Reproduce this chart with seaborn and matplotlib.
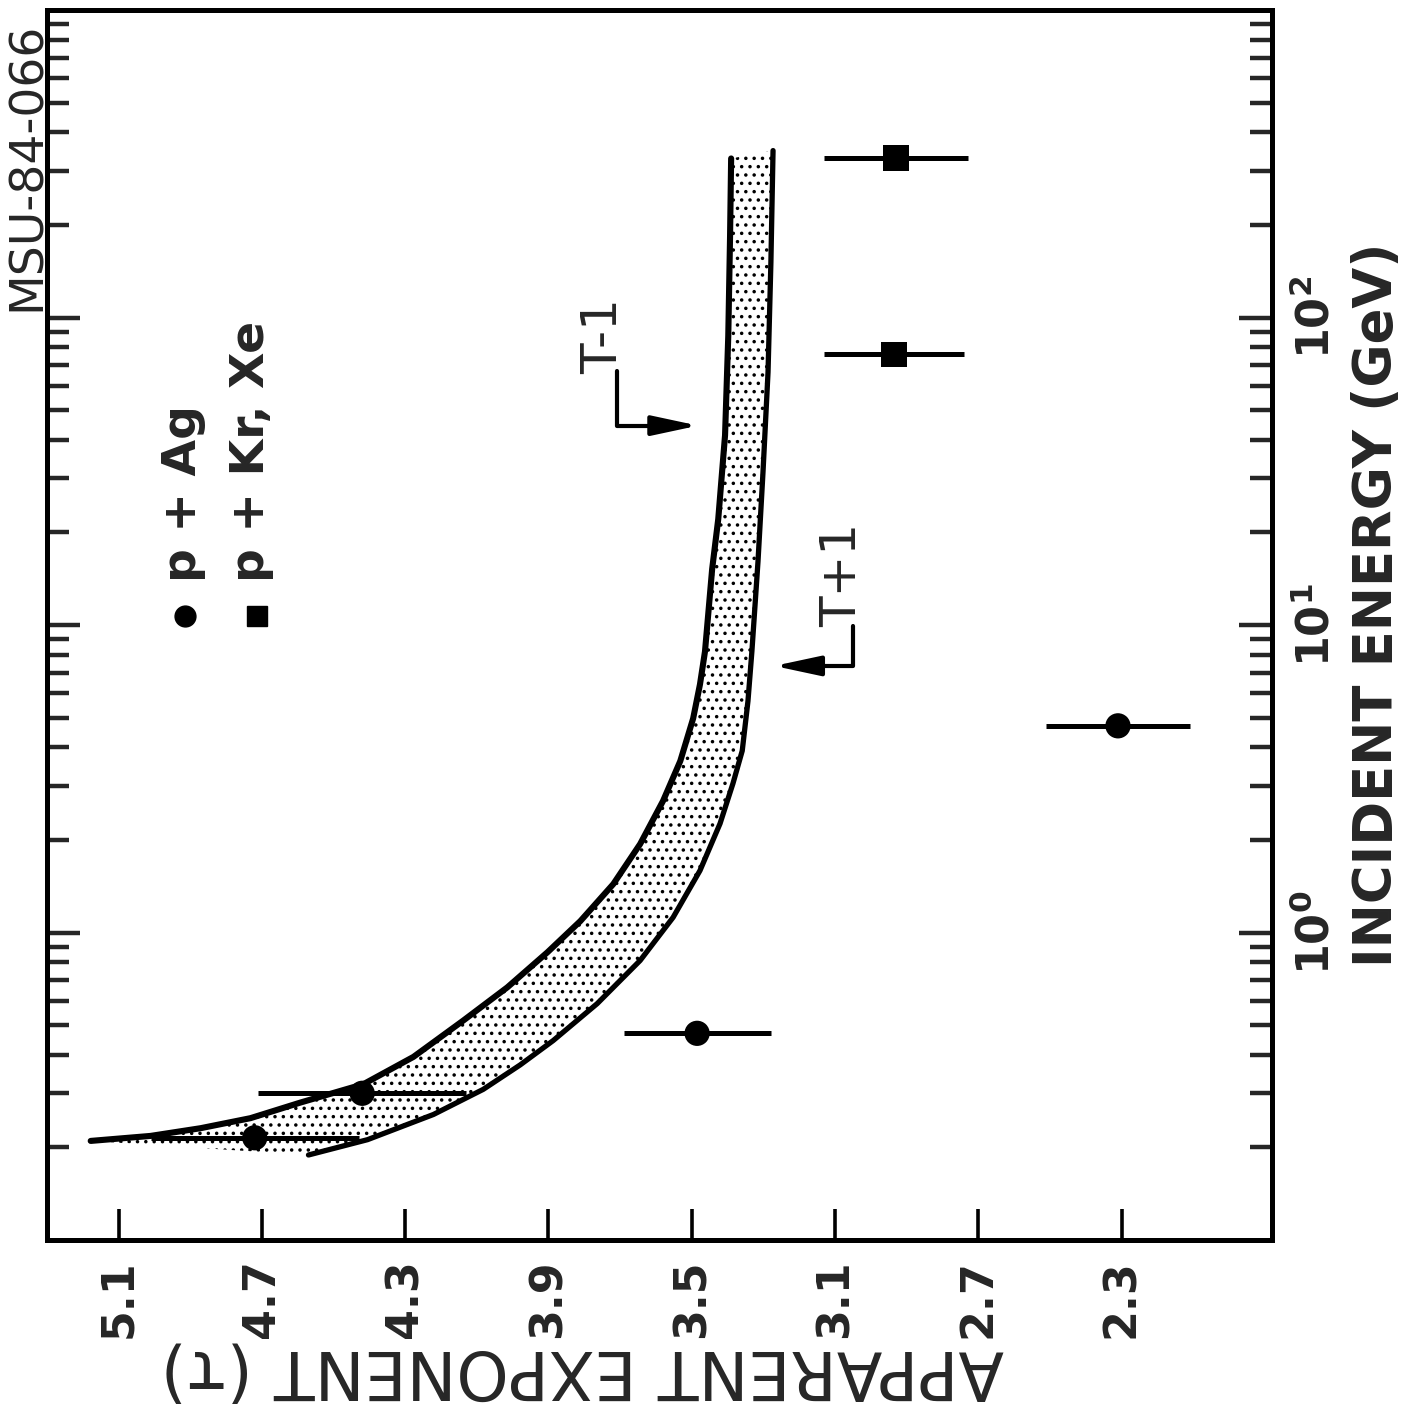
import numpy as np
import pandas as pd
import matplotlib
matplotlib.use("Agg")
import matplotlib.pyplot as plt
import seaborn as sns
from matplotlib.ticker import LogLocator, FixedLocator, FixedFormatter, NullFormatter

# ---------------- data ----------------
# p + Ag (circles)
ag_energy = [0.215, 0.30, 0.47, 4.7]        # GeV
ag_tau = [4.72, 4.42, 3.485, 2.31]
ag_err = [0.29, 0.29, 0.205, 0.20]
# p + Kr, Xe (squares)
krxe_energy = [76.0, 330.0]
krxe_tau = [2.935, 2.93]
krxe_err = [0.195, 0.20]

# band edges: "T-1" curve (higher tau) and "T+1" curve (lower tau)
tm1_tau = [5.178, 5.011, 4.871, 4.732, 4.592, 4.417, 4.277, 4.138, 4.015, 3.903,
           3.811, 3.719, 3.644, 3.580, 3.532, 3.496, 3.477, 3.463, 3.443, 3.426,
           3.407, 3.398, 3.393, 3.390]
tm1_energy = [0.210, 0.218, 0.231, 0.249, 0.280, 0.321, 0.394, 0.517, 0.663, 0.862,
              1.089, 1.437, 1.94, 2.68, 3.61, 4.97, 6.41, 8.20, 15.2, 22.1,
              41.4, 87.2, 184.0, 329.0]
tp1_tau = [4.570, 4.405, 4.221, 4.082, 3.979, 3.887, 3.764, 3.644, 3.552, 3.477,
           3.421, 3.385, 3.359, 3.343, 3.332, 3.315, 3.301, 3.287, 3.279, 3.273]
tp1_energy = [0.189, 0.212, 0.256, 0.309, 0.371, 0.445, 0.587, 0.811, 1.12, 1.59,
              2.26, 3.05, 3.90, 5.66, 8.22, 16.1, 31.5, 66.4, 151.0, 349.0]

tau_ticks = [5.1, 4.7, 4.3, 3.9, 3.5, 3.1, 2.7, 2.3]
tau_ticklabels = ["5.1", "4.7", "4.3", "3.9", "3.5", "3.1", "2.7", "2.3"]
energy_ticks = [1, 10, 100]
energy_ticklabels = [r"$\mathbf{10^{0}}$", r"$\mathbf{10^{1}}$", r"$\mathbf{10^{2}}$"]

series_names = ["p + Ag", "p + Kr, Xe"]
xlabel_text = "APPARENT EXPONENT (τ)"
ylabel_text = "INCIDENT ENERGY (GeV)"
figure_id = "MSU-84-066"

# ---------------- style ----------------
sns.set_style("white")
plt.rcParams["font.family"] = ["DejaVu Sans"]
plt.rcParams["mathtext.fontset"] = "dejavusans"
plt.rcParams["hatch.linewidth"] = 1.3

W, H = 1409, 1406
fig = plt.figure(figsize=(W / 100, H / 100), dpi=100)
fig.patch.set_facecolor("white")
ax_left, ax_right, ax_top, ax_bot = 47, 1272, 10, 1240
ax = fig.add_axes([ax_left / W, 1 - ax_bot / H, (ax_right - ax_left) / W, (ax_bot - ax_top) / H])
ax.set_yscale("log")
ax.set_xlim(5.30, 1.88)
ax.set_ylim(0.1, 1000)
ax.set_facecolor("white")

# stippled band
band_tau = np.concatenate([tm1_tau, tp1_tau[::-1]])
band_energy = np.concatenate([tm1_energy, tp1_energy[::-1]])
ax.fill(band_tau, band_energy, facecolor="white", edgecolor="black",
        hatch="..", linewidth=0, zorder=1)

curves = pd.DataFrame({"tau": tm1_tau, "energy": tm1_energy})
curves2 = pd.DataFrame({"tau": tp1_tau, "energy": tp1_energy})
sns.lineplot(data=curves, x="tau", y="energy", sort=False, estimator=None,
             color="black", linewidth=4.4, ax=ax, zorder=3,
             solid_joinstyle="round", solid_capstyle="round")
sns.lineplot(data=curves2, x="tau", y="energy", sort=False, estimator=None,
             color="black", linewidth=3.8, ax=ax, zorder=3,
             solid_joinstyle="round", solid_capstyle="round")

# error bars
ax.errorbar(ag_tau, ag_energy, xerr=ag_err, fmt="none", ecolor="black",
            elinewidth=3.6, capsize=0, zorder=4)
ax.errorbar(krxe_tau, krxe_energy, xerr=krxe_err, fmt="none", ecolor="black",
            elinewidth=3.6, capsize=0, zorder=4)

points = pd.DataFrame({
    "tau": ag_tau + krxe_tau,
    "energy": ag_energy + krxe_energy,
    "system": [series_names[0]] * len(ag_tau) + [series_names[1]] * len(krxe_tau),
})
sns.scatterplot(data=points, x="tau", y="energy", style="system",
                markers={series_names[0]: "o", series_names[1]: "s"},
                color="black", s=330, edgecolor="black", linewidth=0,
                legend=False, ax=ax, zorder=5)

# spines and ticks
for sp in ax.spines.values():
    sp.set_linewidth(3.6)
    sp.set_color("black")

ax.xaxis.set_major_locator(FixedLocator(tau_ticks))
ax.xaxis.set_major_formatter(FixedFormatter(tau_ticklabels))
ax.xaxis.set_minor_locator(FixedLocator([]))
ax.tick_params(axis="x", which="major", direction="in", length=22, width=2.6,
               bottom=True, top=False, labelsize=32, pad=14, labelrotation=90,
               color="black")

ax.yaxis.set_major_locator(FixedLocator(energy_ticks))
ax.yaxis.set_major_formatter(FixedFormatter(energy_ticklabels))
ax.yaxis.set_minor_locator(LogLocator(base=10, subs=np.arange(2, 10), numticks=20))
ax.yaxis.set_minor_formatter(NullFormatter())
ax.tick_params(axis="y", which="major", direction="in", length=24, width=3.2,
               left=True, right=True, labelleft=False, labelright=True,
               labelsize=32, pad=16, labelrotation=90)
ax.tick_params(axis="y", which="minor", direction="in", length=16, width=3.2,
               left=True, right=True)
for lab in ax.get_xticklabels():
    lab.set_fontweight("bold")
for lab in ax.get_yticklabels():
    lab.set_va("center")
    lab.set_ha("left")
ax.set_xlabel("")
ax.set_ylabel("")

# axis titles (rotated as in the figure)
fig.text(582 / W, 1 - 1370 / H, xlabel_text, rotation=180, ha="center", va="center",
         fontsize=48)
fig.text(1377 / W, 1 - 605 / H, ylabel_text, rotation=90, ha="center", va="center",
         fontsize=38, fontweight="bold")
fig.text(27 / W, 1 - 166 / H, figure_id, rotation=90, ha="center", va="center",
         fontsize=34)

# legend (drawn manually, rotated)
ax.plot([185 / W], [1 - 616 / H], marker="o", markersize=15, color="black",
        linestyle="none", transform=fig.transFigure, clip_on=False)
ax.plot([257 / W], [1 - 616 / H], marker="s", markersize=15, color="black",
        linestyle="none", transform=fig.transFigure, clip_on=False)
fig.text(183 / W, 1 - 582 / H, series_names[0], rotation=90, ha="center", va="bottom",
         fontsize=34, fontweight="bold")
fig.text(252 / W, 1 - 582 / H, series_names[1], rotation=90, ha="center", va="bottom",
         fontsize=34, fontweight="bold")

# T-1 / T+1 annotations
ax.text(3.747, 86.9, "T-1", rotation=90, ha="center", va="center", fontsize=36)
ax.plot([3.708, 3.708, 3.60], [67, 44.5, 44.5], color="black", lw=3, solid_capstyle="round")
ax.annotate("", xy=(3.482, 44.5), xytext=(3.61, 44.5),
            arrowprops=dict(arrowstyle="-|>,head_length=1.4,head_width=0.3",
                            color="black", lw=3, shrinkA=0, shrinkB=0, mutation_scale=20))
ax.text(3.080, 14.6, "T+1", rotation=90, ha="center", va="center", fontsize=36)
ax.plot([3.050, 3.050, 3.16], [9.9, 7.36, 7.36], color="black", lw=3, solid_capstyle="round")
ax.annotate("", xy=(3.270, 7.36), xytext=(3.15, 7.36),
            arrowprops=dict(arrowstyle="-|>,head_length=1.4,head_width=0.3",
                            color="black", lw=3, shrinkA=0, shrinkB=0, mutation_scale=20))

fig.savefig("out.png", dpi=100, facecolor="white")
